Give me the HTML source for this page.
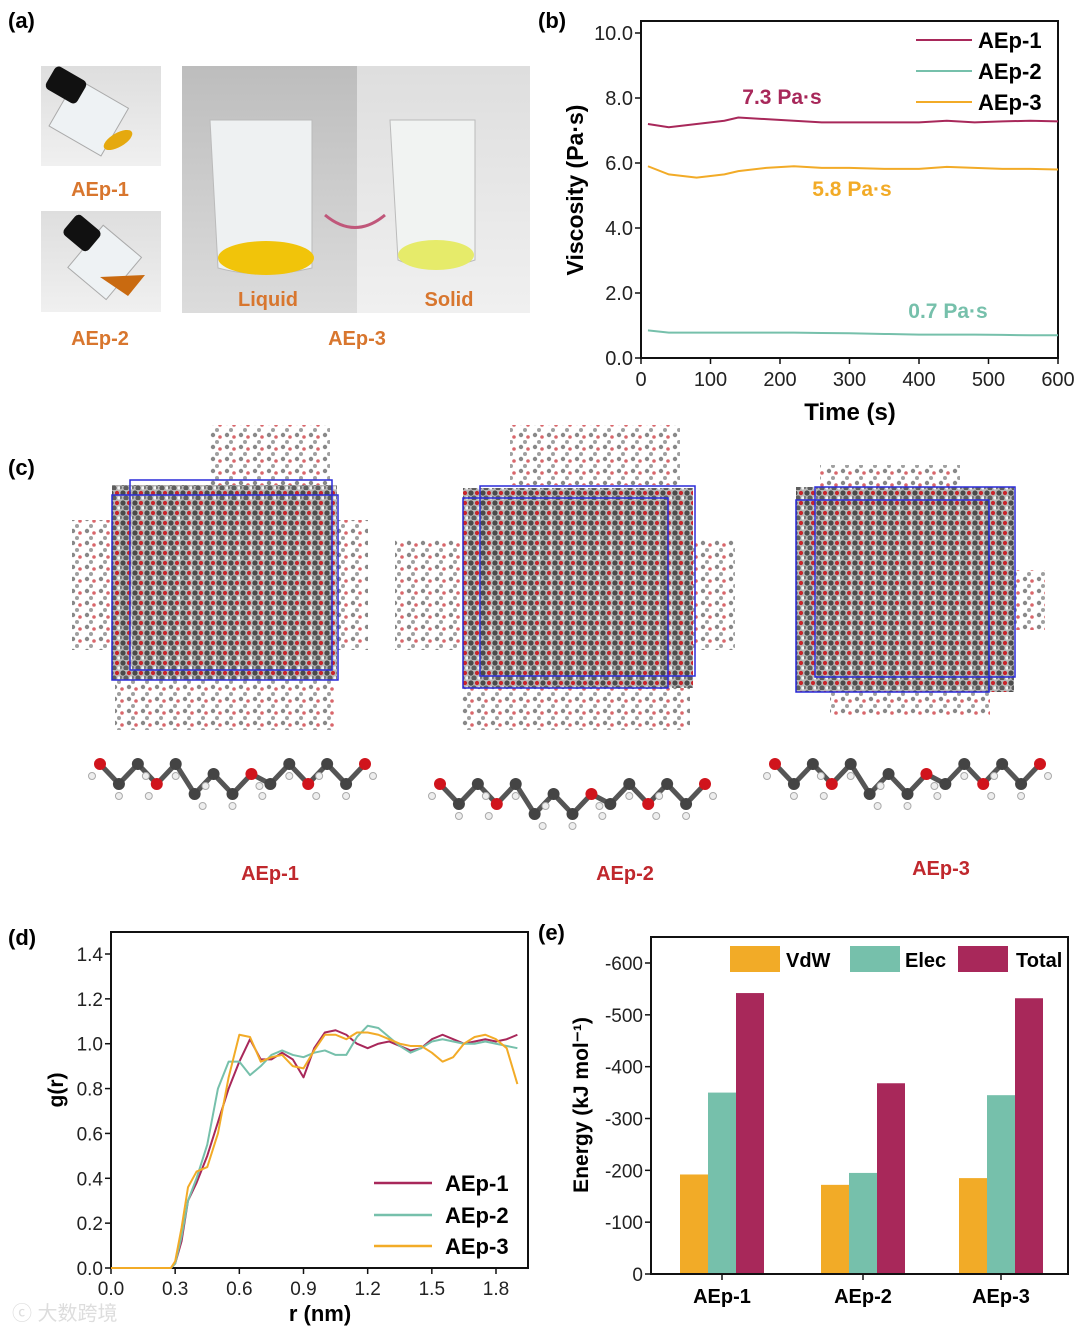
<!DOCTYPE html>
<html><head><meta charset="utf-8"><style>
html,body{margin:0;padding:0;background:#fff}
svg{display:block;font-family:"Liberation Sans","Noto Sans CJK SC",sans-serif}
</style></head><body>
<svg id="fig" width="1080" height="1331" viewBox="0 0 1080 1331">
<defs>
<pattern id="mol" width="12" height="10" patternUnits="userSpaceOnUse">
<rect width="12" height="10" fill="#b8b8b8"/>
<circle cx="3" cy="3" r="2.6" fill="#4a4a4a"/><circle cx="9" cy="3" r="2.1" fill="#c8252b"/>
<circle cx="6" cy="8" r="2.6" fill="#5e5e5e"/><circle cx="11" cy="8" r="1.6" fill="#f4f4f4"/>
<circle cx="0.5" cy="7.5" r="1.6" fill="#777"/>
</pattern>
<pattern id="molL" width="14" height="12" patternUnits="userSpaceOnUse">
<rect width="14" height="12" fill="#fff"/>
<circle cx="3" cy="3" r="2.2" fill="#555"/><circle cx="10" cy="5" r="1.8" fill="#c8252b"/>
<circle cx="7" cy="10" r="2" fill="#777"/>
</pattern>
<linearGradient id="gL" x1="0" x2="0" y1="0" y2="1"><stop offset="0" stop-color="#bdbdbd"/><stop offset="1" stop-color="#dcdcdc"/></linearGradient>
<linearGradient id="gR" x1="0" x2="0" y1="0" y2="1"><stop offset="0" stop-color="#dedede"/><stop offset="1" stop-color="#f0f0f0"/></linearGradient>
</defs>

<!-- Panel a -->
<g>
<text x="8" y="28" font-size="22" font-weight="bold">(a)</text>
<g>
<rect x="41" y="66" width="120" height="100" fill="url(#gR)"/>
<rect x="60" y="90" width="60" height="55" fill="#eef2f4" stroke="#aaa" transform="rotate(30 90 115)"/>
<rect x="48" y="72" width="36" height="26" rx="5" fill="#111" transform="rotate(30 66 85)"/>
<ellipse cx="118" cy="140" rx="16" ry="7" fill="#e5a90f" transform="rotate(-30 118 140)"/>
</g>
<text x="100" y="196" font-size="20" font-weight="bold" fill="#d8762e" text-anchor="middle">AEp-1</text>
<g>
<rect x="41" y="211" width="120" height="101" fill="url(#gR)"/>
<rect x="80" y="235" width="50" height="55" fill="#eef2f4" stroke="#aaa" transform="rotate(40 105 262)"/>
<rect x="66" y="220" width="32" height="26" rx="5" fill="#111" transform="rotate(40 82 233)"/>
<polygon points="100,277 145,275 128,296" fill="#c96a10"/>
</g>
<text x="100" y="345" font-size="20" font-weight="bold" fill="#d8762e" text-anchor="middle">AEp-2</text>
<g>
<rect x="182" y="66" width="175" height="247" fill="url(#gL)"/>
<rect x="357" y="66" width="173" height="247" fill="url(#gR)"/>
<path d="M210 120 L312 120 L312 268 Q262 280 218 268 Z" fill="#eef1f2" stroke="#bbb"/>
<ellipse cx="266" cy="258" rx="48" ry="17" fill="#f1c40a"/>
<path d="M390 120 L475 120 L475 260 Q432 275 398 260 Z" fill="#f1f3f2" stroke="#bbb"/>
<ellipse cx="436" cy="255" rx="38" ry="15" fill="#e6eb6a"/>
<path d="M325 215 Q355 240 385 215" fill="none" stroke="#c0577a" stroke-width="3"/>
<text x="268" y="306" font-size="20" font-weight="bold" fill="#d8762e" text-anchor="middle">Liquid</text>
<text x="449" y="306" font-size="20" font-weight="bold" fill="#d8762e" text-anchor="middle">Solid</text>
</g>
<text x="357" y="345" font-size="20" font-weight="bold" fill="#d8762e" text-anchor="middle">AEp-3</text>
</g>

<!-- Panel b -->
<g id="pb">
<text x="538" y="28" font-size="22" font-weight="bold">(b)</text>
</g>

<!-- Panel c -->
<g>
<text x="8" y="475" font-size="22" font-weight="bold">(c)</text>
<g>
<rect x="72" y="520" width="296" height="130" fill="url(#molL)" opacity="0.7"/>
<rect x="115" y="660" width="220" height="70" fill="url(#molL)" opacity="0.7"/>
<rect x="210" y="425" width="120" height="60" fill="url(#molL)" opacity="0.7"/>
<rect x="112" y="485" width="225" height="195" fill="url(#mol)"/>
<rect x="112" y="495" width="226" height="185" fill="none" stroke="#2a2ad8" stroke-width="1.5"/>
<rect x="130" y="480" width="202" height="190" fill="none" stroke="#2a2ad8" stroke-width="1.5"/>
</g>
<g>
<rect x="395" y="540" width="340" height="110" fill="url(#molL)" opacity="0.7"/>
<rect x="460" y="680" width="230" height="50" fill="url(#molL)" opacity="0.7"/>
<rect x="510" y="425" width="170" height="60" fill="url(#molL)" opacity="0.7"/>
<rect x="463" y="488" width="230" height="200" fill="url(#mol)"/>
<rect x="463" y="498" width="205" height="190" fill="none" stroke="#2a2ad8" stroke-width="1.5"/>
<rect x="480" y="486" width="215" height="190" fill="none" stroke="#2a2ad8" stroke-width="1.5"/>
</g>
<g>
<rect x="820" y="465" width="140" height="30" fill="url(#molL)" opacity="0.7"/>
<rect x="990" y="570" width="55" height="60" fill="url(#molL)" opacity="0.7"/>
<rect x="830" y="680" width="160" height="35" fill="url(#molL)" opacity="0.7"/>
<rect x="796" y="487" width="218" height="205" fill="url(#mol)"/>
<rect x="796" y="500" width="193" height="192" fill="none" stroke="#2a2ad8" stroke-width="1.5"/>
<rect x="815" y="487" width="200" height="190" fill="none" stroke="#2a2ad8" stroke-width="1.5"/>
</g>
<g id="mols"></g>
<text x="270" y="880" font-size="20" font-weight="bold" fill="#c0282d" text-anchor="middle">AEp-1</text>
<text x="625" y="880" font-size="20" font-weight="bold" fill="#c0282d" text-anchor="middle">AEp-2</text>
<text x="941" y="875" font-size="20" font-weight="bold" fill="#c0282d" text-anchor="middle">AEp-3</text>
</g>

<!-- Panel d -->
<g id="pd">
<text x="8" y="945" font-size="22" font-weight="bold">(d)</text>
</g>
<!-- Panel e -->
<g id="pe">
<text x="538" y="940" font-size="22" font-weight="bold">(e)</text>
</g>
<text x="12" y="1320" font-size="20" fill="#ddd">ⓒ 大数跨境</text>
</svg>
<script>
// ---- Panel b data ----
const bTime=[10,40,80,120,140,180,220,260,300,350,400,440,480,520,560,600];
const bAEp1=[7.2,7.1,7.2,7.3,7.4,7.35,7.3,7.25,7.25,7.25,7.25,7.3,7.25,7.28,7.3,7.28];
const bAEp2=[0.85,0.78,0.78,0.78,0.78,0.78,0.78,0.77,0.76,0.74,0.72,0.72,0.72,0.71,0.7,0.7];
const bAEp3=[5.9,5.65,5.55,5.65,5.75,5.85,5.9,5.85,5.85,5.82,5.82,5.88,5.85,5.82,5.82,5.8];
const bXTicks=[0,100,200,300,400,500,600];
const bYTicks=[0,2,4,6,8,10];
// ---- Panel d data ----
const dR=[0,0.28,0.3,0.33,0.36,0.4,0.45,0.5,0.55,0.6,0.65,0.7,0.75,0.8,0.85,0.9,0.95,1.0,1.05,1.1,1.15,1.2,1.25,1.3,1.35,1.4,1.45,1.5,1.55,1.6,1.65,1.7,1.75,1.8,1.85,1.9];
const dAEp1=[0,0,0.02,0.12,0.3,0.38,0.5,0.65,0.8,0.92,1.02,0.93,0.93,0.96,0.93,0.85,0.98,1.05,1.06,1.04,1.0,0.98,1.0,1.01,0.99,0.97,0.98,1.02,1.04,1.02,1.0,1.01,1.02,1.01,1.02,1.04];
const dAEp2=[0,0,0.02,0.14,0.3,0.4,0.55,0.8,0.92,0.92,0.86,0.9,0.95,0.97,0.95,0.94,0.96,0.97,0.95,0.95,1.03,1.08,1.07,1.03,0.99,0.96,0.98,1.01,1.02,1.01,1.0,1.0,1.01,1.0,0.99,0.98];
const dAEp3=[0,0,0.03,0.18,0.36,0.43,0.45,0.6,0.85,1.04,1.03,0.92,0.94,0.95,0.9,0.89,0.97,1.04,1.04,1.02,1.05,1.05,1.04,1.02,1.0,0.99,0.99,0.96,0.92,0.94,1.0,1.03,1.04,1.02,0.98,0.82];
const dXTicks=[0,0.3,0.6,0.9,1.2,1.5,1.8];
const dYTicks=[0,0.2,0.4,0.6,0.8,1.0,1.2,1.4];
// ---- Panel e data ----
const eCats=["AEp-1","AEp-2","AEp-3"];
const eVdW=[192,172,185];
const eElec=[350,195,345];
const eTotal=[542,368,532];
const eYTicks=[0,100,200,300,400,500,600];

const NS="http://www.w3.org/2000/svg";
function mk(parent,tag,attrs,txt){const e=document.createElementNS(NS,tag);for(const k in attrs)e.setAttribute(k,attrs[k]);if(txt!==undefined)e.textContent=txt;parent.appendChild(e);return e;}
const C1="#a8285a",C2="#76c0ab",C3="#f2ab27";

// Panel b
(function(){
 const g=document.getElementById('pb');
 const L=641,R=1058,T=21,B=358;
 const x=v=>L+(v-0)/600*(R-L), y=v=>358-v/10*(358-33);
 let e;
 e=mk(g,'rect',{x:L,y:T,width:R-L,height:B-T,fill:'none',stroke:'#111','stroke-width':2});
 
 bXTicks.forEach(t=>{mk(g,'line',{x1:x(t),x2:x(t),y1:B,y2:B+6,stroke:'#111','stroke-width':1.5});
  e=mk(g,'text',{x:x(t),y:B+28,'font-size':20,'text-anchor':'middle',fill:'#222'},t);
  });
 bYTicks.forEach(t=>{mk(g,'line',{x1:L-6,x2:L,y1:y(t),y2:y(t),stroke:'#111','stroke-width':1.5});
  e=mk(g,'text',{x:L-8,y:y(t)+7,'font-size':20,'text-anchor':'end',fill:'#222'},t.toFixed(1));
  });
 e=mk(g,'text',{x:850,y:420,'font-size':24,'font-weight':'bold','text-anchor':'middle'},'Time (s)');
 
 e=mk(g,'text',{x:0,y:0,'font-size':23,'font-weight':'bold','text-anchor':'middle',transform:'translate(583,190) rotate(-90)'},'Viscosity (Pa·s)');
 
 [[bAEp1,C1,'aep1'],[bAEp2,C2,'aep2'],[bAEp3,C3,'aep3']].forEach(s=>{
  e=mk(g,'polyline',{points:bTime.map((t,i)=>x(t)+','+y(s[0][i])).join(' '),fill:'none',stroke:s[1],'stroke-width':2});
  });
 [['7.3 Pa·s',782,104,C1],['5.8 Pa·s',852,196,C3],['0.7 Pa·s',948,318,C2]].forEach(a=>{
  e=mk(g,'text',{x:a[1],y:a[2],'font-size':21,'font-weight':'bold','text-anchor':'middle',fill:a[3]},a[0]);
  });
 [['AEp-1',C1,40],['AEp-2',C2,71],['AEp-3',C3,102]].forEach(l=>{
  mk(g,'line',{x1:916,x2:972,y1:l[2],y2:l[2],stroke:l[1],'stroke-width':2});
  e=mk(g,'text',{x:978,y:l[2]+8,'font-size':22,'font-weight':'bold'},l[0]);
  });
})();

// Panel d
(function(){
 const g=document.getElementById('pd');
 const L=111,R=528,T=932,B=1268;
 const x=v=>L+v*(496-111)/1.8, y=v=>B-v*(1268-954)/1.4;
 let e;
 e=mk(g,'rect',{x:L,y:T,width:R-L,height:B-T,fill:'none',stroke:'#111','stroke-width':2});
 
 dXTicks.forEach(t=>{mk(g,'line',{x1:x(t),x2:x(t),y1:B,y2:B+6,stroke:'#111','stroke-width':1.5});
  e=mk(g,'text',{x:x(t),y:B+27,'font-size':19,'text-anchor':'middle',fill:'#222'},t.toFixed(1));
  });
 dYTicks.forEach(t=>{mk(g,'line',{x1:L-6,x2:L,y1:y(t),y2:y(t),stroke:'#111','stroke-width':1.5});
  e=mk(g,'text',{x:L-8,y:y(t)+7,'font-size':19,'text-anchor':'end',fill:'#222'},t.toFixed(1));
  });
 e=mk(g,'text',{x:320,y:1321,'font-size':22,'font-weight':'bold','text-anchor':'middle'},'r (nm)');
 
 e=mk(g,'text',{x:0,y:0,'font-size':21,'font-weight':'bold','text-anchor':'middle',transform:'translate(63,1090) rotate(-90)'},'g(r)');
 
 [[dAEp1,C1,'aep1'],[dAEp2,C2,'aep2'],[dAEp3,C3,'aep3']].forEach(s=>{
  e=mk(g,'polyline',{points:dR.map((r,i)=>x(r)+','+y(s[0][i])).join(' '),fill:'none',stroke:s[1],'stroke-width':2,'stroke-linejoin':'round'});
  });
 [['AEp-1',C1,1183],['AEp-2',C2,1215],['AEp-3',C3,1246]].forEach(l=>{
  mk(g,'line',{x1:374,x2:432,y1:l[2],y2:l[2],stroke:l[1],'stroke-width':2.5});
  e=mk(g,'text',{x:445,y:l[2]+8,'font-size':22,'font-weight':'bold'},l[0]);
  });
})();

// Panel e
(function(){
 const g=document.getElementById('pe');
 const L=651,R=1068,T=937,B=1274;
 const y=v=>B-v*(1274-963)/600;
 const cx=[722,863,1001];
 let e;
 eYTicks.forEach(t=>{mk(g,'line',{x1:L-6,x2:L,y1:y(t),y2:y(t),stroke:'#111','stroke-width':1.5});
  e=mk(g,'text',{x:L-8,y:y(t)+7,'font-size':19,'text-anchor':'end',fill:'#222'},t===0?'0':'-'+t);
  });
 const bw=28;
 eCats.forEach((c,i)=>{
  [[eVdW,C3,'vdw',-1.5],[eElec,C2,'elec',-0.5],[eTotal,C1,'total',0.5]].forEach(s=>{
   e=mk(g,'rect',{x:cx[i]+s[3]*bw,y:y(s[0][i]),width:bw,height:B-y(s[0][i]),fill:s[1]});
   });
  mk(g,'line',{x1:cx[i],x2:cx[i],y1:B,y2:B+6,stroke:'#111','stroke-width':1.5});
  e=mk(g,'text',{x:cx[i],y:B+29,'font-size':20,'font-weight':'bold','text-anchor':'middle'},c);
  
 });
 e=mk(g,'rect',{x:L,y:T,width:R-L,height:B-T,fill:'none',stroke:'#111','stroke-width':2});
 
 e=mk(g,'text',{x:0,y:0,'font-size':21,'font-weight':'bold','text-anchor':'middle',transform:'translate(588,1105) rotate(-90)'},'Energy (kJ mol⁻¹)');
 
 [['VdW',C3,730,786],['Elec',C2,850,905],['Total',C1,958,1016]].forEach(l=>{
  mk(g,'rect',{x:l[2],y:946,width:50,height:26,fill:l[1]});
  e=mk(g,'text',{x:l[3],y:967,'font-size':20,'font-weight':'bold'},l[0]);
  });
})();

// Molecule ball-and-stick sketches (decorative)
(function(){
 const g=document.getElementById('mols');
 const mols=[[100,770,365,790],[440,790,705,800],[775,770,1040,780]];
 mols.forEach((m,k)=>{
  const pts=[];const n=14;
  for(let i=0;i<=n;i++){pts.push([m[0]+(m[2]-m[0])*i/n, m[1]+ (i%2?14:-6)+ (i>4&&i<9?10:0)]);}
  const pl=mk(g,'polyline',{points:pts.map(p=>p.join(',')).join(' '),fill:'none',stroke:'#555','stroke-width':5});
  
  pts.forEach((p,i)=>{mk(g,'circle',{cx:p[0],cy:p[1],r:6,fill:(i===0||i===3||i===8||i===11||i===14)?'#d0141c':'#444'});
   mk(g,'circle',{cx:p[0]+(i%3-1)*8,cy:p[1]+12,r:3.5,fill:'#eee',stroke:'#aaa'});});
 });
})();
</script>
</body></html>
